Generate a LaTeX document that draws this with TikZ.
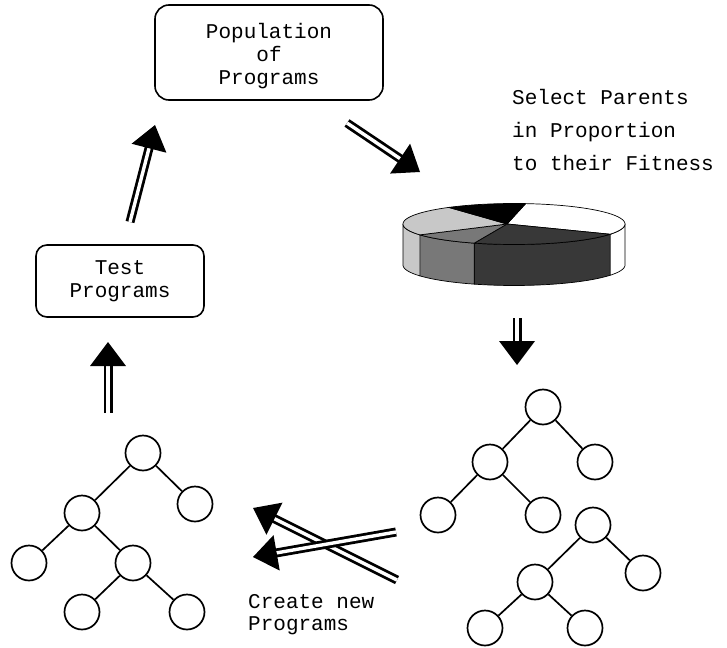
\documentclass[tikz,border=0pt]{standalone}
\usepackage{fontspec}
\newfontfamily\courfont{Liberation Mono}
\usetikzlibrary{calc}

% thick double-lined arrow with a large solid triangular head
\newcommand\fatarrow[2]{%
  \coordinate (#2-b) at ($(#2)!24pt!(#1)$);
  \draw[shaft] (#1) -- ($(#2)!20pt!(#1)$);
  \fill (#2) -- ($(#2-b)!18pt!90:(#2)$) -- ($(#2-b)!18pt!-90:(#2)$) -- cycle;
}

\tikzset{
  lbl/.style={font=\courfont\fontsize{21}{23}\selectfont, inner sep=0pt},
  box/.style={draw, line width=1.6pt, rounded corners=14pt, align=center,
              font=\courfont\fontsize{21}{23}\selectfont},
  vtx/.style={circle, draw, line width=1.7pt, minimum size=35pt, inner sep=0pt},
  edge/.style={line width=1.7pt},
  shaft/.style={line width=2.8pt, double=white, double distance=3.4pt},
  pieline/.style={draw=black, line width=0.7pt},
}

\def\pcx{514}\def\pcy{224}\def\prx{111}\def\pry{20.5}\def\pdep{41}
% side band of the disc between two angles
\newcommand\pieside[3]{%
  \filldraw[pieline, fill=#3]
    plot[domain=#1:#2, samples=30] ({\pcx+\prx*cos(\x)},{\pcy+\pry*sin(\x)})
    -- plot[domain=#2:#1, samples=30] ({\pcx+\prx*cos(\x)},{\pcy+\pdep+\pry*sin(\x)})
    -- cycle;}
% wedge on the top face
\newcommand\pietop[3]{%
  \filldraw[pieline, fill=#3] (pc)
    -- plot[domain=#1:#2, samples=30] ({\pcx+\prx*cos(\x)},{\pcy+\pry*sin(\x)})
    -- cycle;}

\definecolor{pdark}{HTML}{383838}
\definecolor{pmid}{HTML}{787878}
\definecolor{plight}{HTML}{C8C8C8}

\begin{document}
\begin{tikzpicture}[x=1pt, y=-1pt]
\useasboundingbox[fill=white] (0,0) rectangle (727,647);

% boxes
\node[box, minimum width=228pt, minimum height=95pt] (pop) at (269,52.5) {\rule{0pt}{23pt}Population\\of\\Programs};
\node[box, rounded corners=11pt, minimum width=168pt, minimum height=72pt] (test) at (120,281) {Test\\Programs};

% selection text
\node[lbl, anchor=base west] (sel1) at (512,105) {Select Parents};
\node[lbl, anchor=base west] (sel2) at (512,138) {in Proportion};
\node[lbl, anchor=base west] (sel3) at (512,171) {to their Fitness};

% pie chart
\coordinate (pc) at (507,224);
\pieside{0}{30}{white}
\pieside{30}{111}{pdark}
\pieside{111}{148}{pmid}
\pieside{148}{180}{plight}
\pietop{-84}{30}{white}
\pietop{30}{111}{pdark}
\pietop{111}{148}{pmid}
\pietop{148}{234}{plight}
\pietop{234}{276}{black}

% text under the crossover arrows
\node[lbl, anchor=base west] (cr1) at (248,608) {Create new};
\node[lbl, anchor=base west] (cr2) at (248,630) {Programs};

% selected parent trees
\node[vtx] (r1) at (543,407) {};
\node[vtx] (r1l) at (490,462) {};
\node[vtx] (r1r) at (595,462) {};
\node[vtx] (r1ll) at (438,515) {};
\node[vtx] (r1lr) at (543,515) {};
\draw[edge] (r1) -- (r1l) (r1) -- (r1r) (r1l) -- (r1ll) (r1l) -- (r1lr);

\node[vtx] (r2) at (593,525) {};
\node[vtx] (r2l) at (535,582) {};
\node[vtx] (r2r) at (643,573) {};
\node[vtx] (r2ll) at (485,628) {};
\node[vtx] (r2lr) at (585,628) {};
\draw[edge] (r2) -- (r2l) (r2) -- (r2r) (r2l) -- (r2ll) (r2l) -- (r2lr);

% offspring tree
\node[vtx] (c) at (143,453) {};
\node[vtx] (cl) at (82,513) {};
\node[vtx] (cr) at (195,504) {};
\node[vtx] (cll) at (29,563) {};
\node[vtx] (clr) at (133,563) {};
\node[vtx] (clrl) at (82,612) {};
\node[vtx] (clrr) at (187,612) {};
\draw[edge] (c) -- (cl) (c) -- (cr) (cl) -- (cll) (cl) -- (clr) (clr) -- (clrl) (clr) -- (clrr);

% cycle arrows
\coordinate (a1s) at (130,222); \coordinate (a1e) at (155,125);
\coordinate (a2s) at (108,413); \coordinate (a2e) at (108,342);
\coordinate (a3s) at (347,123); \coordinate (a3e) at (420,172);
\coordinate (a4s) at (517,318); \coordinate (a4e) at (517,365);
\coordinate (a5s) at (397,580); \coordinate (a5e) at (253,508);
\coordinate (a6s) at (396,532); \coordinate (a6e) at (253,557);
\fatarrow{a1s}{a1e}
\fatarrow{a2s}{a2e}
\fatarrow{a3s}{a3e}
\fatarrow{a4s}{a4e}
\fatarrow{a5s}{a5e}
\fatarrow{a6s}{a6e}
\end{tikzpicture}
\end{document}
